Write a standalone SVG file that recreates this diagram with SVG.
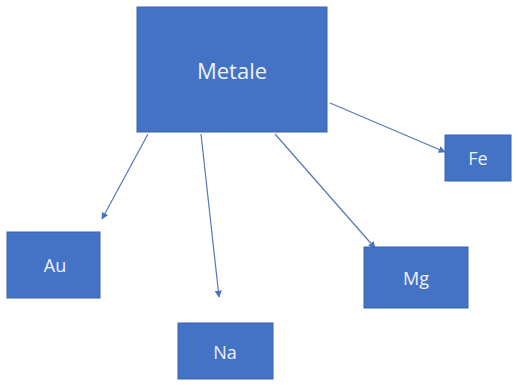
<svg xmlns="http://www.w3.org/2000/svg" width="518" height="385" viewBox="0 0 518 385">
<style>
.box{fill:#4472C4;stroke:#3A63AC;stroke-width:1}
.lbl{fill:#EEF2FA;font-family:"Open Sans","Liberation Sans",sans-serif;text-anchor:middle}
.edge{stroke:#5577B8;stroke-width:1.2;fill:none;marker-end:url(#ah)}
</style>
<defs>
<marker id="ah" viewBox="0 0 10 10" refX="9" refY="5" markerWidth="7" markerHeight="7" orient="auto" markerUnits="userSpaceOnUse">
<path d="M0,0 L10,5 L0,10 z" fill="#4472C4"/>
</marker>
</defs>
<rect width="518" height="385" fill="#ffffff"/>
<g id="connectors">
<line class="edge" x1="148" y1="134" x2="102" y2="219"/>
<line class="edge" x1="201" y1="134" x2="219" y2="297"/>
<line class="edge" x1="275" y1="134" x2="375" y2="248"/>
<line class="edge" x1="330" y1="103" x2="445" y2="152"/>
</g>
<g id="metale">
<rect class="box" x="137" y="7" width="190" height="125"/>
<text class="lbl" x="232" y="79" font-size="22">Metale</text>
</g>
<g id="au">
<rect class="box" x="7" y="232" width="93" height="66"/>
<text class="lbl" x="55" y="272" font-size="18">Au</text>
</g>
<g id="na">
<rect class="box" x="178" y="323" width="95" height="56"/>
<text class="lbl" x="225" y="359" font-size="18">Na</text>
</g>
<g id="mg">
<rect class="box" x="364" y="247" width="104" height="61"/>
<text class="lbl" x="416" y="285" font-size="18">Mg</text>
</g>
<g id="fe">
<rect class="box" x="445" y="135" width="66" height="46"/>
<text class="lbl" x="478" y="165" font-size="18">Fe</text>
</g>
</svg>
